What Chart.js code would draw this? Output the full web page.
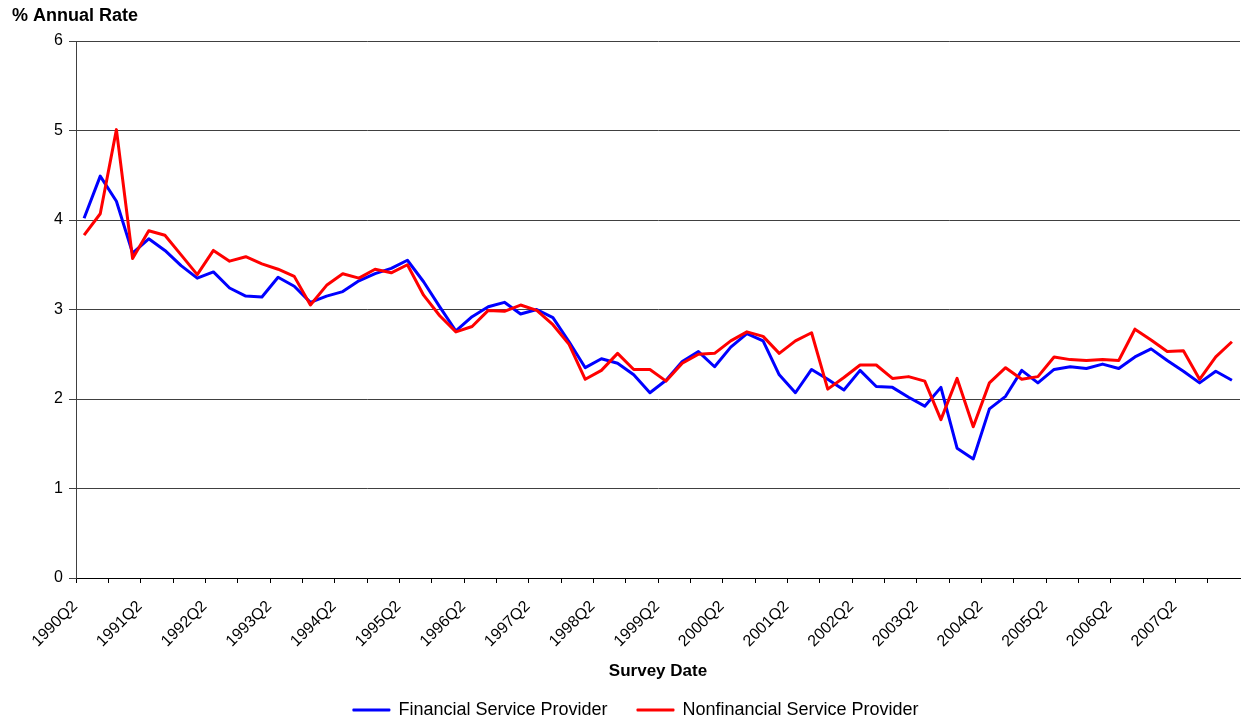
<!DOCTYPE html>
<html><head><meta charset="utf-8">
<script src="https://cdn.jsdelivr.net/npm/chart.js@4.4.0/dist/chart.umd.min.js"></script>
<style>html,body{margin:0;padding:0;background:#fff;}canvas{display:block;}</style>
</head><body>
<canvas id="c" width="1243" height="721"></canvas>
<script>
const quarters = [
  '1990Q2','1990Q3','1990Q4','1991Q1','1991Q2','1991Q3','1991Q4','1992Q1',
  '1992Q2','1992Q3','1992Q4','1993Q1','1993Q2','1993Q3','1993Q4','1994Q1',
  '1994Q2','1994Q3','1994Q4','1995Q1','1995Q2','1995Q3','1995Q4','1996Q1',
  '1996Q2','1996Q3','1996Q4','1997Q1','1997Q2','1997Q3','1997Q4','1998Q1',
  '1998Q2','1998Q3','1998Q4','1999Q1','1999Q2','1999Q3','1999Q4','2000Q1',
  '2000Q2','2000Q3','2000Q4','2001Q1','2001Q2','2001Q3','2001Q4','2002Q1',
  '2002Q2','2002Q3','2002Q4','2003Q1','2003Q2','2003Q3','2003Q4','2004Q1',
  '2004Q2','2004Q3','2004Q4','2005Q1','2005Q2','2005Q3','2005Q4','2006Q1',
  '2006Q2','2006Q3','2006Q4','2007Q1','2007Q2','2007Q3','2007Q4','2008Q1'
];
const financial = [
  4.02, 4.49, 4.21, 3.63, 3.79, 3.66, 3.49, 3.35,
  3.42, 3.24, 3.15, 3.14, 3.36, 3.26, 3.08, 3.15,
  3.20, 3.32, 3.40, 3.46, 3.55, 3.31, 3.03, 2.76,
  2.92, 3.03, 3.08, 2.95, 3.00, 2.91, 2.64, 2.35,
  2.45, 2.40, 2.27, 2.07, 2.21, 2.42, 2.53, 2.36,
  2.58, 2.73, 2.65, 2.27, 2.07, 2.33, 2.22, 2.10,
  2.32, 2.14, 2.13, 2.02, 1.92, 2.13, 1.45, 1.33,
  1.89, 2.03, 2.32, 2.18, 2.33, 2.36, 2.34, 2.39,
  2.34, 2.47, 2.56, 2.43, 2.31, 2.18, 2.31, 2.21
];
const nonfinancial = [
  3.83, 4.07, 5.01, 3.57, 3.88, 3.83, 3.61, 3.39,
  3.66, 3.54, 3.59, 3.51, 3.45, 3.37, 3.05, 3.27,
  3.40, 3.35, 3.45, 3.41, 3.50, 3.16, 2.93, 2.75,
  2.81, 2.99, 2.98, 3.05, 2.99, 2.83, 2.61, 2.22,
  2.32, 2.51, 2.33, 2.33, 2.20, 2.40, 2.50, 2.51,
  2.65, 2.75, 2.70, 2.51, 2.65, 2.74, 2.11, 2.24,
  2.38, 2.38, 2.23, 2.25, 2.20, 1.77, 2.23, 1.69,
  2.18, 2.35, 2.22, 2.25, 2.47, 2.44, 2.43, 2.44,
  2.43, 2.78, 2.66, 2.53, 2.54, 2.22, 2.47, 2.64
];
const yTicks = [0, 1, 2, 3, 4, 5, 6];
const seriesNames = ['Financial Service Provider', 'Nonfinancial Service Provider'];
const yAxisTitle = '% Annual Rate';
const xAxisTitle = 'Survey Date';

const FONT = 'Arial, "Liberation Sans", sans-serif';

const legendTweak = {
  id: 'legendTweak',
  beforeLayout(chart) {
    const lg = chart.legend;
    if (lg && !lg._tweaked) {
      const orig = lg.fit;
      lg.fit = function () { orig.call(this); this.height = 34; };
      lg._tweaked = true;
    }
  },
  afterLayout(chart) {
    const lg = chart.legend;
    if (lg) { lg.left += 10; lg.right += 10; lg.top -= 16; }
  }
};

new Chart(document.getElementById('c'), {
  type: 'line',
  data: {
    labels: quarters,
    datasets: [
      { label: seriesNames[0], data: financial, borderColor: '#0000FF', backgroundColor: '#0000FF',
        borderWidth: 3, borderJoinStyle: 'round', pointRadius: 0, tension: 0, order: 1 },
      { label: seriesNames[1], data: nonfinancial, borderColor: '#FF0000', backgroundColor: '#FF0000',
        borderWidth: 3, borderJoinStyle: 'round', pointRadius: 0, tension: 0, order: 0 }
    ]
  },
  options: {
    responsive: false,
    animation: false,
    events: [],
    layout: { padding: { left: 12, right: 3, top: 0, bottom: 0 } },
    plugins: {
      tooltip: { enabled: false },
      title: {
        display: true, text: yAxisTitle, align: 'start', color: '#000',
        font: { family: FONT, size: 18, weight: 'bold' },
        padding: { top: 5, bottom: 14.4 }
      },
      legend: {
        position: 'bottom',
        labels: {
          boxWidth: 36, boxHeight: 1, padding: 30, color: '#000',
          font: { family: FONT, size: 18 },
          sort: (a, b) => a.datasetIndex - b.datasetIndex,
          generateLabels: chart => Chart.defaults.plugins.legend.labels.generateLabels(chart)
            .map(item => Object.assign(item, { lineWidth: 2 }))
        }
      }
    },
    scales: {
      x: {
        type: 'category',
        offset: true,
        grid: {
          offset: true, drawOnChartArea: false, drawTicks: true, tickLength: 5, lineWidth: 1,
          color: ctx => (ctx.index !== undefined && ctx.index % 2 === 0 ? '#000' : 'rgba(0,0,0,0)')
        },
        border: { display: true, color: '#000', width: 1 },
        ticks: {
          autoSkip: false, minRotation: 45, maxRotation: 45, padding: 14, labelOffset: -9, color: '#000',
          font: { family: FONT, size: 16 },
          callback: function (v, i) { return i % 4 === 0 ? this.getLabelForValue(v) : ''; }
        },
        title: {
          display: true, text: xAxisTitle, color: '#000',
          font: { family: FONT, size: 17, weight: 'bold' },
          padding: { top: 0, bottom: 5 }
        },
        afterFit: s => { s.height = 109; s.paddingLeft = 0; s.paddingRight = 0; }
      },
      y: {
        min: 0, max: 6,
        afterBuildTicks: s => { s.ticks = yTicks.map(v => ({ value: v })); },
        ticks: { color: '#000', padding: 6, font: { family: FONT, size: 16 } },
        grid: { color: '#404040', lineWidth: 1, tickLength: 7, drawTicks: true },
        border: { display: true, color: '#404040', width: 1 },
        afterFit: s => { s.width = 64; }
      }
    }
  },
  plugins: [legendTweak]
});
</script>
</body></html>
